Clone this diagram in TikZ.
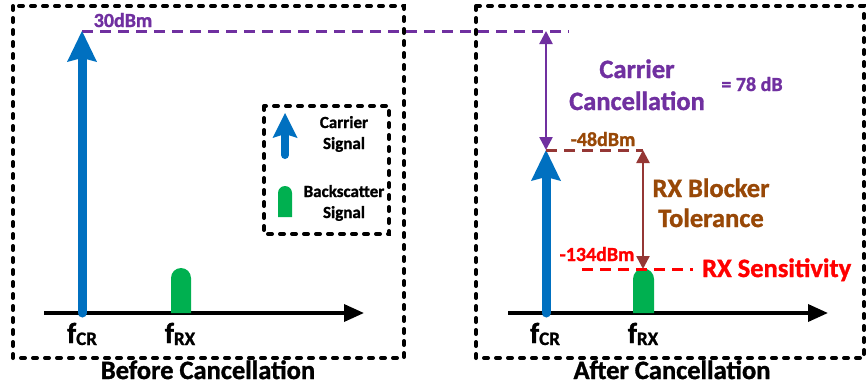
\documentclass[tikz,border=0pt]{standalone}
\usepackage{fontspec}
\setmainfont{Carlito}[BoldFont={Carlito Bold}, BoldFeatures={FakeBold=1.2}]
\usetikzlibrary{arrows.meta}
\definecolor{cblue}{HTML}{0070C0}
\definecolor{cgreen}{HTML}{00B050}
\definecolor{cpurple}{HTML}{7030A0}
\definecolor{cbrownline}{HTML}{953735}
\definecolor{cbrowntext}{HTML}{984807}
\definecolor{cred}{HTML}{FF0000}
\begin{document}
\begin{tikzpicture}[x=1pt,y=-1pt,
  frame/.style={draw=black, line width=4pt, line cap=round, dash pattern=on 4pt off 8pt},
  lvl/.style={line width=3pt, dash pattern=on 11pt off 7pt},
  axisline/.style={line width=3.5pt, -{Triangle[width=17pt,length=20pt]}},
  dbl/.style={line width=2.5pt, {Triangle[width=13pt,length=13pt]}-{Triangle[width=13pt,length=13pt]}},
  lbl/.style={anchor=base, inner sep=0pt, font=\bfseries\fontsize{20}{20}\selectfont},
  big/.style={anchor=base, inner sep=0pt, font=\bfseries\fontsize{26.5}{26.5}\selectfont},
  leg/.style={anchor=base, inner sep=0pt, font=\bfseries\fontsize{17}{17}\selectfont},
  freq/.style={anchor=base, inner sep=0pt, font=\bfseries\fontsize{29}{29}\selectfont}
]
\useasboundingbox (0,0) rectangle (867,389);

% frames
\draw[frame] (13,6) rectangle (404,358);
\draw[frame] (476,6) rectangle (864,358);
\draw[frame] (264,106) rectangle (389,234);

% level coordinates
\coordinate (Ltip) at (82,31);
\coordinate (Lbase) at (82,313);
\coordinate (Ptop) at (546,31);
\coordinate (Pend) at (569,31);
\coordinate (Rtip) at (546,150);
\coordinate (Rbase) at (546,313);
\coordinate (Bend) at (643,150);
\coordinate (Sens) at (643,269);
\coordinate (Sstart) at (582,269);
\coordinate (Send) at (693,269);

% purple dashed level
\draw[lvl, cpurple] (Ltip) -- (Pend);

% axes
\coordinate (A1s) at (44,313); \coordinate (A1e) at (364,313);
\coordinate (A2s) at (508,313); \coordinate (A2e) at (828,313);
\draw[axisline] (A1s) -- (A1e);
\draw[axisline] (A2s) -- (A2e);

% blue carrier arrows
\draw[cblue, line width=9pt, line cap=round] (Lbase) -- (82,58);
\fill[cblue] (Ltip) -- (97,62) -- (82,58) -- (67,62) -- cycle;
\draw[cblue, line width=9pt, line cap=round] (Rbase) -- (546,177);
\fill[cblue] (Rtip) -- (561,181) -- (546,177) -- (531,181) -- cycle;

% green bumps
\fill[cgreen] (171,313) -- (171,278) arc[start angle=180,end angle=360,radius=10] -- (191,313) -- cycle;
\fill[cgreen] (633,313) -- (633,279) arc[start angle=180,end angle=360,radius=10.5] -- (654,313) -- cycle;

% legend symbols
\draw[cblue, line width=8pt, line cap=round] (285,155) -- (285,134);
\fill[cblue] (285,113) -- (297.5,138) -- (285,134) -- (272.5,138) -- cycle;
\fill[cgreen] (278,217) -- (278,193) arc[start angle=180,end angle=360,radius=7] -- (292,217) -- cycle;

% brown and red dashed levels
\draw[lvl, cbrownline] (Rtip) -- (Bend);
\draw[lvl, cred] (Sstart) -- (Send);

% double arrows
\draw[dbl, cpurple] (Ptop) -- (Rtip);
\draw[dbl, cbrownline] (Bend) -- (Sens);

% labels
\node[lbl, cpurple] (l30) at (123,27) {30dBm};
\node[big, cpurple] (lcar) at (637,78) {Carrier};
\node[big, cpurple] (lcan) at (637,110) {Cancellation};
\node[lbl, cpurple] (l78) at (752,91) {= 78 dB};
\node[lbl, cbrowntext] (l48) at (603,146) {-48dBm};
\node[big, cbrowntext] (lrxb) at (711,197) {RX Blocker};
\node[big, cbrowntext] (ltol) at (711,227) {Tolerance};
\node[lbl, cred] (l134) at (597,261) {-134dBm};
\node[big, cred, anchor=base west] (lsens) at (702,277) {RX Sensitivity};

\node[leg] (legc1) at (344,128) {Carrier};
\node[leg] (legc2) at (344,149) {Signal};
\node[leg] (legb1) at (344,197) {Backscatter};
\node[leg] (legb2) at (344,218) {Signal};

\node[freq] (f1) at (82,343) {f\raisebox{-2pt}{\fontsize{19}{19}\selectfont CR}};
\node[freq] (f2) at (180,343) {f\raisebox{-2pt}{\fontsize{19}{19}\selectfont RX}};
\node[freq] (f3) at (545,343) {f\raisebox{-2pt}{\fontsize{19}{19}\selectfont CR}};
\node[freq] (f4) at (643,343) {f\raisebox{-2pt}{\fontsize{19}{19}\selectfont RX}};

\node[big] (tb) at (208,379) {Before Cancellation};
\node[big] (ta) at (672,379) {After Cancellation};
\end{tikzpicture}
\end{document}
